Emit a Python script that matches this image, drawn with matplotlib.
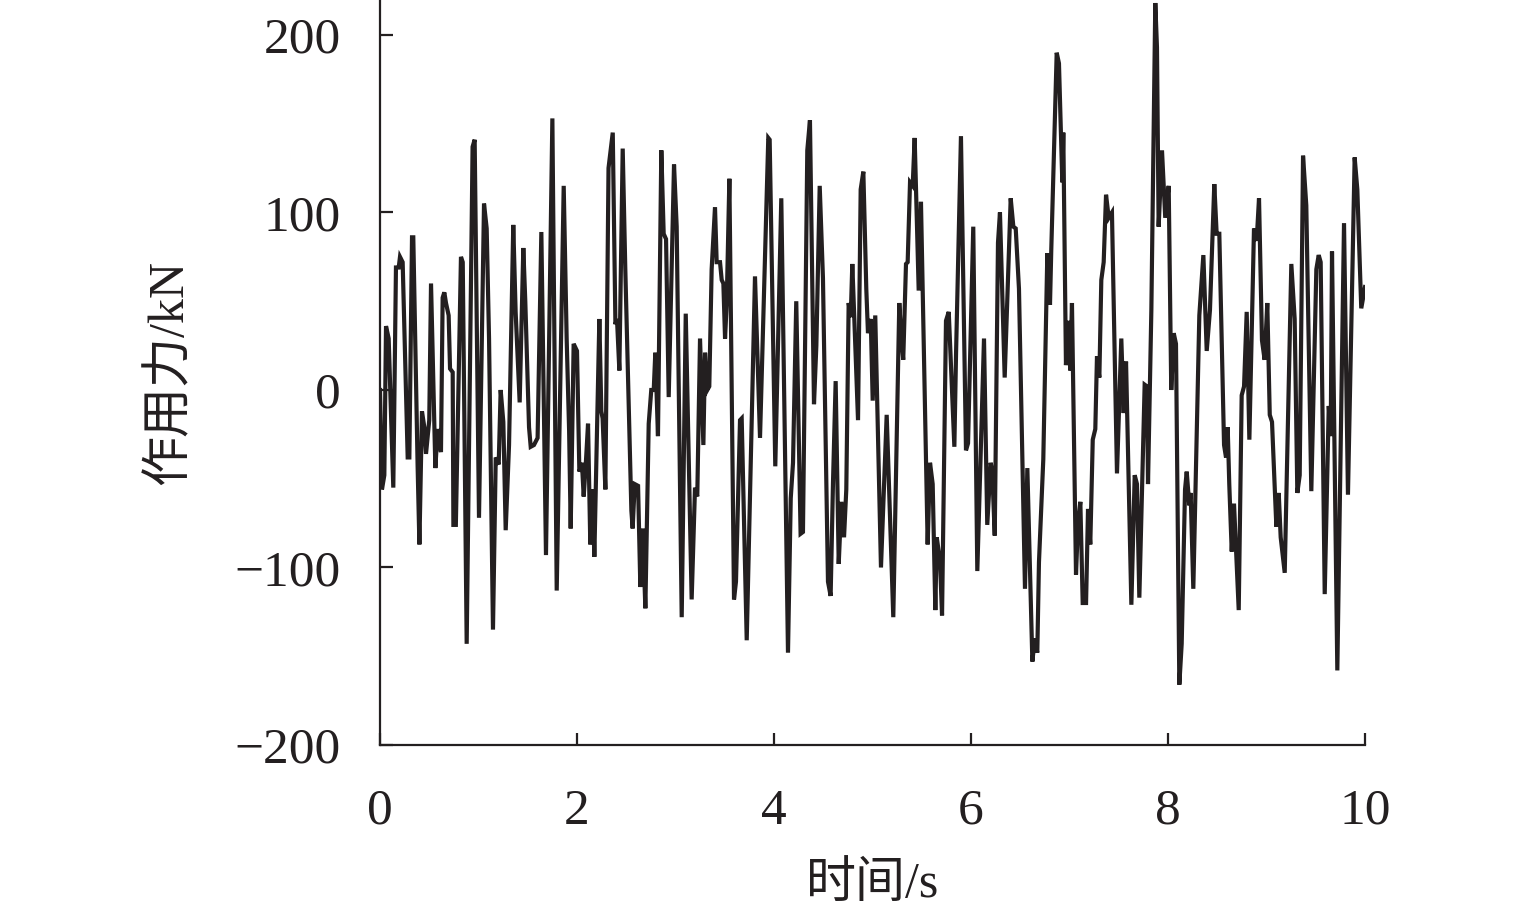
import matplotlib
matplotlib.use("Agg")
import matplotlib.pyplot as plt

# time (s) and force (kN)
t = [0.00, 0.02, 0.044, 0.061, 0.088, 0.135, 0.162, 0.19, 0.203, 0.23,
     0.281, 0.298, 0.325, 0.338, 0.382, 0.40, 0.426, 0.45, 0.467, 0.50,
     0.518, 0.562, 0.585, 0.619, 0.636, 0.653, 0.67, 0.697, 0.711, 0.738,
     0.745, 0.77, 0.822, 0.84, 0.88, 0.94, 0.961, 1.005, 1.056, 1.083,
     1.107, 1.147, 1.175, 1.19, 1.205, 1.225, 1.252, 1.276, 1.31, 1.353,
     1.377, 1.418, 1.455, 1.475, 1.513, 1.53, 1.563, 1.60, 1.638, 1.685,
     1.75, 1.794, 1.865, 1.895, 1.92, 1.936, 1.966, 2.0, 2.024, 2.05,
     2.068, 2.091, 2.112, 2.135, 2.159, 2.176, 2.227, 2.247, 2.26, 2.288,
     2.32, 2.363, 2.39, 2.406, 2.43, 2.464, 2.49, 2.552, 2.565, 2.586,
     2.62, 2.643, 2.667, 2.694, 2.728, 2.754, 2.779, 2.795, 2.822, 2.856,
     2.88, 2.904, 2.931, 2.985, 3.012, 3.063, 3.104, 3.12, 3.164, 3.198,
     3.221, 3.249, 3.283, 3.30, 3.323, 3.343, 3.367, 3.401, 3.418, 3.452,
     3.469, 3.486, 3.503, 3.52, 3.547, 3.594, 3.614, 3.655, 3.672, 3.723,
     3.807, 3.858, 3.942, 3.956, 4.013, 4.074, 4.142, 4.17, 4.193, 4.226,
     4.27, 4.294, 4.338, 4.365, 4.406, 4.43, 4.464, 4.497, 4.548, 4.575,
     4.599, 4.626, 4.657, 4.684, 4.711, 4.734, 4.758, 4.779, 4.795, 4.853,
     4.88, 4.907, 4.937, 4.954, 4.982, 5.002, 5.028, 5.086, 5.144, 5.211,
     5.272, 5.289, 5.312, 5.34, 5.357, 5.381, 5.408, 5.428, 5.469, 5.492,
     5.56, 5.584, 5.611, 5.638, 5.652, 5.685, 5.706, 5.746, 5.774, 5.831,
     5.848, 5.898, 5.949, 5.97, 6.023, 6.064, 6.132, 6.165, 6.20, 6.216,
     6.241, 6.274, 6.294, 6.342, 6.403, 6.43, 6.454, 6.487, 6.548, 6.572,
     6.623, 6.647, 6.673, 6.69, 6.734, 6.775, 6.802, 6.815, 6.87, 6.893,
     6.927, 6.937, 6.964, 6.992, 7.008, 7.025, 7.066, 7.086, 7.11, 7.134,
     7.168, 7.188, 7.211, 7.236, 7.262, 7.279, 7.303, 7.323, 7.347, 7.371,
     7.398, 7.431, 7.482, 7.526, 7.55, 7.574, 7.628, 7.662, 7.685, 7.709,
     7.763, 7.787, 7.797, 7.831, 7.871, 7.888, 7.905, 7.939, 7.972, 8.007,
     8.033, 8.058, 8.081, 8.115, 8.139, 8.173, 8.19, 8.216, 8.23, 8.257,
     8.318, 8.359, 8.393, 8.426, 8.47, 8.494, 8.521, 8.569, 8.589, 8.606,
     8.622, 8.647, 8.67, 8.718, 8.748, 8.772, 8.799, 8.826, 8.873, 8.90,
     8.924, 8.954, 8.981, 9.008, 9.033, 9.056, 9.10, 9.124, 9.144, 9.185,
     9.252, 9.286, 9.313, 9.337, 9.371, 9.404, 9.455, 9.506, 9.53, 9.55,
     9.591, 9.632, 9.652, 9.665, 9.719, 9.787, 9.827, 9.895, 9.922, 9.962,
     10.0]
force = [0, -56, -48, 36, 29, -55, 69, 69, 75, 72,
         -38, -38, 86, 86, -43, -87, -12, -21, -36, -17,
         60, -44, -22, -35, 52, 55, 49, 42, 12, 10,
         -76, -76, 75, 72, -143, 137, 141, -72, 105, 91,
         29, -135, -38, -40, -42, 0, -18, -79, -31, 93,
         44, -7, 80, 50, -21, -32, -31, -27, 89, -93,
         153, -113, 115, 29, -23, -78, 26, 22, -46, -41,
         -60, -40, -19, -87, -56, -94, 40, -12, -16, -56,
         125, 145, 37, 40, 11, 136, 69, -68, -78, -53,
         -54, -111, -78, -123, -19, 0, 0, 21, -26, 135,
         88, 85, -4, 127, 92, -128, 43, 0, -118, -55,
         -60, 29, -31, 21, 0, 2, 68, 103, 72, 72,
         62, 60, 29, 49, 119, -118, -108, -17, -16, -141,
         64, -27, 142, 141, -43, 108, -148, -61, -41, 50,
         -81, -80, 135, 152, -8, 25, 115, 63, -108, -116,
         -52, 5, -98, -63, -83, -56, 49, 41, 71, -17,
         113, 123, 57, 32, 40, -6, 42, -100, -14, -128,
         49, 32, 17, 71, 72, 117, 115, 142, 56, 106,
         -87, -41, -53, -124, -83, -96, -127, 39, 44, -32,
         20, 143, -34, -30, 92, -102, 29, -76, -41, -46,
         -82, 83, 100, 7, 108, 92, 91, 57, -112, -44,
         -153, -140, -148, -97, -39, 77, 48, 79, 190, 184,
         117, 145, 14, 39, 11, 49, -104, -75, -63, -120,
         -120, -67, -87, -28, -22, 19, 7, 62, 72, 110,
         97, 100, -47, 29, -13, 16, -121, -48, -53, -117,
         3, 2, -53, 45, 218, 193, 92, 135, 97, 115,
         0, 32, 26, -166, -143, -56, -46, -65, -58, -112,
         42, 76, 22, 45, 116, 88, 88, -31, -38, -21,
         -53, -91, -64, -124, -3, 2, 44, -28, 91, 84,
         108, 28, 17, 49, -14, -18, -77, -58, -83, -103,
         71, 40, -58, -48, 132, 104, -57, 68, 76, 72,
         -115, -9, -26, 78, -158, 94, -59, 131, 113, 46,
         58]

x_ticks = [0, 2, 4, 6, 8, 10]
y_ticks = [-200, -100, 0, 100, 200]

ink = '#231f20'
fam = ['Liberation Serif', 'Noto Sans CJK SC']

fig = plt.figure(figsize=(15.35, 9.22), dpi=100)
ax = fig.add_axes([380 / 1535, 1 - 745 / 922, 985 / 1535, 745 / 922])

ax.plot(t, force, color=ink, linewidth=3.0, solid_joinstyle='miter')

ax.set_xlim(0, 10)
ax.set_ylim(-200, 219.7)
ax.set_xticks(x_ticks)
ax.set_yticks(y_ticks)

ax.spines['top'].set_visible(False)
ax.spines['right'].set_visible(False)
for s in ['left', 'bottom']:
	ax.spines[s].set_linewidth(1.6)
	ax.spines[s].set_color(ink)

ax.tick_params(axis='x', direction='in', length=9, width=1.6, color=ink, pad=31)
ax.tick_params(axis='y', direction='in', length=9, width=1.6, color=ink, pad=28)
for lab in ax.get_xticklabels() + ax.get_yticklabels():
	lab.set_fontfamily(fam)
	lab.set_fontsize(37)
	lab.set_color(ink)

ax.set_xlabel('时间/s', fontsize=36, family=fam, color=ink, va='center')
ax.set_ylabel('作用力/kN', fontsize=36, family=fam, color=ink, va='center')
ax.xaxis.set_label_coords(0.5, -0.188)
ax.yaxis.set_label_coords(-0.213, 0.5)

fig.savefig('out.png', dpi=100)
